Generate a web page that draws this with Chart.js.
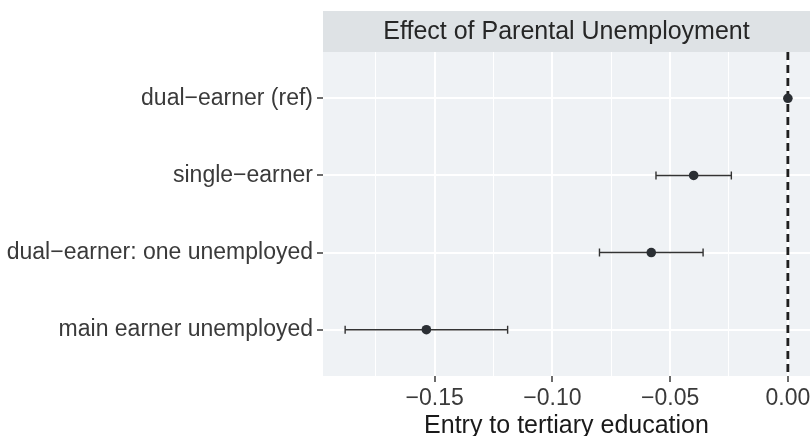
<!DOCTYPE html>
<html>
<head>
<meta charset="utf-8">
<script src="https://cdn.jsdelivr.net/npm/chart.js@4.4.1/dist/chart.umd.min.js"></script>
<style>
  html, body { margin: 0; padding: 0; background: #ffffff; }
  #wrap { width: 810px; height: 436px; }
</style>
</head>
<body>
<div id="wrap"><canvas id="c" width="810" height="436"></canvas></div>
<script>
// ---- data ----
const categories = ["dual\u2212earner (ref)", "single\u2212earner", "dual\u2212earner: one unemployed", "main earner unemployed"];
const estimates  = [0, -0.040, -0.058, -0.1535];
const lowerCI    = [null, -0.056, -0.080, -0.188];
const upperCI    = [null, -0.024, -0.036, -0.119];
const xTickLabels = ["\u22120.15", "\u22120.10", "\u22120.05", "0.00"];
const panelTitle = "Effect of Parental Unemployment";
const xTitle = "Entry to tertiary education";

// ggplot-like 5% expansion of the data range
const allX = estimates.concat(lowerCI.filter(v => v !== null), upperCI.filter(v => v !== null));
const dMin = Math.min(...allX), dMax = Math.max(...allX);
const span = dMax - dMin;
const xMin = dMin - 0.05 * span, xMax = dMax + 0.05 * span;

const FONT = "'Liberation Sans', Arial, Helvetica, sans-serif";
const STRIP_TOP = 11, PANEL_TOP = 52, PANEL_LEFT = 323, PANEL_BOTTOM = 376;
const TEXT = '#3a3a3a';

function isMajor(v) {
  const k = Math.round(v / 0.025);
  return k % 2 === 0;
}
function majorLabel(v) {
  const k = Math.round(v / 0.05); // -3..0
  return xTickLabels[k + 3];
}

const panelPlugin = {
  id: 'panel',
  beforeDraw(chart) {
    const { ctx, chartArea: a } = chart;
    ctx.save();
    ctx.fillStyle = '#eff2f5';
    ctx.fillRect(a.left, a.top, a.right - a.left, a.bottom - a.top);
    // strip
    ctx.fillStyle = '#dee2e5';
    ctx.fillRect(a.left, STRIP_TOP, a.right - a.left, a.top - STRIP_TOP);
    ctx.fillStyle = '#262626';
    ctx.font = '25px ' + FONT;
    ctx.textAlign = 'center';
    ctx.textBaseline = 'middle';
    ctx.fillText(panelTitle, (a.left + a.right) / 2, (STRIP_TOP + a.top) / 2 + 1);
    ctx.restore();
  },
  beforeDatasetsDraw(chart) {
    const { ctx, chartArea: a, scales } = chart;
    const xs = scales.x, ys = scales.y;
    ctx.save();
    ctx.beginPath();
    ctx.rect(a.left, a.top, a.right - a.left, a.bottom - a.top);
    ctx.clip();
    // dashed reference line at 0
    const x0 = xs.getPixelForValue(0);
    ctx.strokeStyle = '#1f1f1f';
    ctx.lineWidth = 2.8;
    ctx.setLineDash([8, 5]);
    ctx.beginPath();
    ctx.moveTo(x0, a.top);
    ctx.lineTo(x0, a.bottom);
    ctx.stroke();
    ctx.setLineDash([]);
    // error bars
    ctx.strokeStyle = '#333333';
    ctx.lineWidth = 1.4;
    for (let i = 0; i < categories.length; i++) {
      if (lowerCI[i] === null) continue;
      const y = ys.getPixelForValue(i);
      const xl = xs.getPixelForValue(lowerCI[i]);
      const xu = xs.getPixelForValue(upperCI[i]);
      ctx.beginPath();
      ctx.moveTo(xl, y); ctx.lineTo(xu, y);
      ctx.moveTo(xl, y - 4); ctx.lineTo(xl, y + 4);
      ctx.moveTo(xu, y - 4); ctx.lineTo(xu, y + 4);
      ctx.stroke();
    }
    ctx.restore();
  }
};

new Chart(document.getElementById('c'), {
  type: 'scatter',
  data: {
    datasets: [{
      data: estimates.map((v, i) => ({ x: v, y: i })),
      backgroundColor: '#2b2f34',
      borderColor: '#2b2f34',
      pointRadius: 4.8,
      pointHoverRadius: 4.8,
      borderWidth: 0
    }]
  },
  options: {
    responsive: false,
    animation: false,
    layout: { autoPadding: false, padding: { top: PANEL_TOP, left: 0, right: 0, bottom: 0 } },
    plugins: { legend: { display: false }, tooltip: { enabled: false }, title: { display: false } },
    scales: {
      x: {
        type: 'linear',
        min: xMin, max: xMax,
        border: { display: false },
        afterFit(scale) { scale.height = 436 - PANEL_BOTTOM; scale.paddingRight = 0; scale.paddingLeft = 0; },
        ticks: {
          stepSize: 0.025,
          includeBounds: false,
          autoSkip: false,
          maxRotation: 0,
          padding: 3,
          color: TEXT,
          font: { family: FONT, size: 23 },
          callback: v => isMajor(v) ? majorLabel(v) : ''
        },
        grid: {
          color: '#ffffff',
          lineWidth: c => isMajor(c.tick.value) ? 2 : 1,
          drawTicks: true,
          tickLength: 6,
          tickColor: c => isMajor(c.tick.value) ? '#3a3a3a' : 'rgba(0,0,0,0)',
          tickWidth: 1.5
        },
        title: {
          display: true,
          text: xTitle,
          color: '#1a1a1a',
          font: { family: FONT, size: 25, lineHeight: 1 },
          padding: { top: 0, bottom: -3 }
        }
      },
      y: {
        type: 'linear',
        min: -0.6, max: 3.6,
        reverse: true,
        border: { display: false },
        afterFit(scale) { scale.width = PANEL_LEFT; scale.paddingTop = 0; scale.paddingBottom = 0; },
        ticks: {
          stepSize: 1,
          includeBounds: false,
          autoSkip: false,
          padding: 4,
          color: TEXT,
          font: { family: FONT, size: 23 },
          callback: v => (Number.isInteger(v) && categories[v] !== undefined) ? categories[v] : ''
        },
        grid: {
          color: '#ffffff',
          lineWidth: 2,
          drawTicks: true,
          tickLength: 6,
          tickColor: '#3a3a3a',
          tickWidth: 1.5
        }
      }
    }
  },
  plugins: [panelPlugin]
});
</script>
</body>
</html>
